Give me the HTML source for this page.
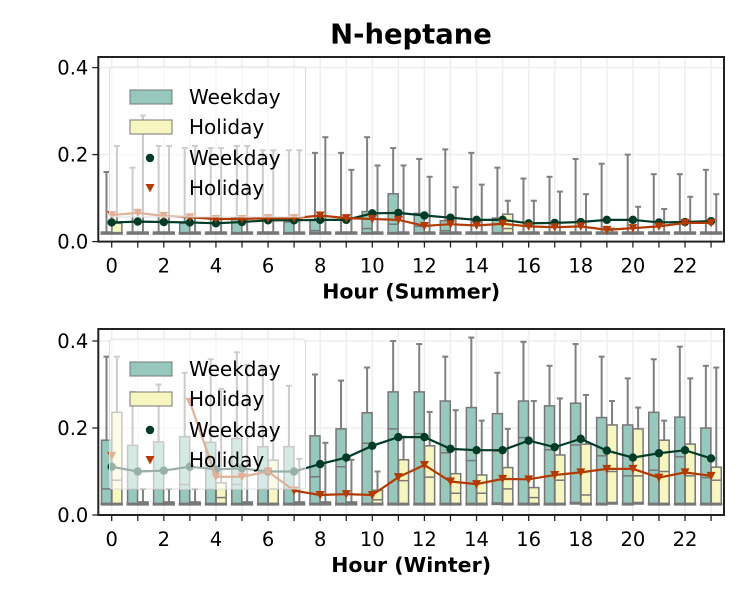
<!DOCTYPE html>
<html><head><meta charset="utf-8"><style>
body{margin:0;background:#fff}
svg text{font-family:"DejaVu Sans","Liberation Sans",sans-serif}
</style></head><body>
<svg id="chart" width="750" height="600" xmlns="http://www.w3.org/2000/svg">
<text x="411" y="43.5" text-anchor="middle" font-size="27.4" font-weight="bold">N-heptane</text>
</svg>
<script>
const hours=[0,1,2,3,4,5,6,7,8,9,10,11,12,13,14,15,16,17,18,19,20,21,22,23];
const yTicks=[0,0.2,0.4];
const xTicks=[0,2,4,6,8,10,12,14,16,18,20,22];
// Summer
const sWdMean=[0.044,0.046,0.045,0.044,0.042,0.045,0.049,0.049,0.05,0.05,0.065,0.066,0.06,0.055,0.05,0.05,0.042,0.043,0.045,0.05,0.05,0.044,0.045,0.047];
const sHdMean=[0.061,0.066,0.059,0.056,0.052,0.052,0.054,0.054,0.06,0.054,0.052,0.05,0.036,0.04,0.037,0.041,0.035,0.033,0.035,0.027,0.031,0.035,0.043,0.043];
const sWdQ1=[0.019,0.019,0.019,0.019,0.019,0.019,0.019,0.019,0.019,0.019,0.019,0.019,0.019,0.019,0.019,0.019,0.019,0.019,0.019,0.019,0.019,0.019,0.019,0.019];
const sWdMed=[0.019,0.019,0.019,0.019,0.019,0.019,0.019,0.019,0.025,0.019,0.03,0.04,0.035,0.025,0.019,0.02,0.019,0.019,0.019,0.019,0.019,0.019,0.019,0.019];
const sWdQ3=[0.022,0.022,0.022,0.042,0.022,0.054,0.022,0.045,0.05,0.022,0.069,0.11,0.065,0.048,0.022,0.054,0.022,0.022,0.022,0.022,0.022,0.022,0.022,0.022];
const sWdHi=[0.16,0.17,0.22,0.215,0.215,0.22,0.21,0.21,0.204,0.204,0.24,0.215,0.19,0.212,0.204,0.17,0.145,0.149,0.19,0.179,0.2,0.155,0.155,0.165];
const sHdQ1=[0.019,0.019,0.019,0.019,0.019,0.019,0.019,0.019,0.019,0.019,0.019,0.019,0.019,0.019,0.019,0.019,0.019,0.019,0.019,0.019,0.019,0.019,0.019,0.019];
const sHdMed=[0.019,0.019,0.019,0.019,0.019,0.019,0.019,0.019,0.019,0.019,0.019,0.019,0.019,0.019,0.019,0.03,0.019,0.019,0.019,0.019,0.019,0.019,0.019,0.019];
const sHdQ3=[0.042,0.022,0.022,0.022,0.022,0.022,0.022,0.022,0.022,0.022,0.022,0.022,0.022,0.022,0.022,0.063,0.022,0.022,0.022,0.022,0.022,0.022,0.022,0.022];
const sHdHi=[0.22,0.29,0.22,0.22,0.215,0.22,0.21,0.21,0.24,0.165,0.175,0.175,0.149,0.125,0.131,0.094,0.094,0.115,0.109,0.03,0.08,0.075,0.103,0.109];
// Winter
const wWdMean=[0.111,0.1,0.102,0.111,0.105,0.107,0.1,0.1,0.117,0.132,0.159,0.179,0.179,0.152,0.149,0.149,0.171,0.156,0.175,0.148,0.132,0.142,0.149,0.13];
const wHdMean=[0.136,null,null,0.26,0.088,0.088,0.1,0.056,0.046,0.048,0.046,0.087,0.115,0.077,0.071,0.083,0.082,0.092,0.098,0.106,0.106,0.086,0.098,0.09];
const wWdQ1=[0.025,0.025,0.025,0.025,0.025,0.025,0.025,0.025,0.025,0.025,0.025,0.025,0.025,0.025,0.025,0.026,0.025,0.025,0.027,0.025,0.025,0.025,0.025,0.025];
const wWdMed=[0.06,0.06,0.06,0.07,0.06,0.07,0.06,0.06,0.088,0.111,0.165,0.198,0.187,0.143,0.125,0.147,0.178,0.15,0.161,0.136,0.09,0.103,0.134,0.086];
const wWdQ3=[0.172,0.16,0.168,0.18,0.167,0.176,0.157,0.157,0.182,0.198,0.235,0.283,0.283,0.262,0.247,0.233,0.262,0.251,0.257,0.224,0.207,0.236,0.225,0.2];
const wWdHi=[0.364,0.283,0.3,0.327,0.358,0.374,0.338,0.297,0.323,0.309,0.339,0.4,0.393,0.364,0.408,0.327,0.398,0.343,0.393,0.364,0.314,0.358,0.387,0.343];
const wHdQ1=[0.025,0.025,0.025,0.025,0.025,0.025,0.025,0.025,0.025,0.025,0.025,0.025,0.025,0.025,0.025,0.025,0.025,0.025,0.025,0.027,0.027,0.025,0.025,0.025];
const wHdMed=[0.08,0.027,0.027,0.027,0.04,0.027,0.06,0.027,0.027,0.027,0.035,0.079,0.087,0.05,0.05,0.06,0.04,0.08,0.046,0.1,0.09,0.1,0.09,0.08];
const wHdQ3=[0.236,0.03,0.03,0.03,0.074,0.03,0.126,0.03,0.03,0.03,0.057,0.127,0.159,0.095,0.092,0.109,0.063,0.138,0.163,0.207,0.198,0.172,0.163,0.11];
const wHdHi=[0.364,0.06,0.06,0.06,0.29,0.345,0.324,0.129,0.166,0.127,0.1,0.18,0.237,0.241,0.217,0.198,0.262,0.268,0.276,0.262,0.247,0.217,0.314,0.339];

const NS='http://www.w3.org/2000/svg';
const svg=document.getElementById('chart');
function mk(tag,attrs,parent){const e=document.createElementNS(NS,tag);for(const k in attrs)e.setAttribute(k,attrs[k]);(parent||svg).appendChild(e);return e;}
const X0=98.3,X1=724,step=26.06,h0x=111.7;
function xs(h){return h0x+h*step;}
function panel(top,bottom,label,wdMean,hdMean,wdQ1,wdMed,wdQ3,wdHi,hdQ1,hdMed,hdQ3,hdHi,pname){
  const ys=v=>bottom-v*435;
  const g=mk('g',{});
  
  
  hours.forEach(h=>{const l=mk('line',{x1:xs(h),x2:xs(h),y1:top,y2:bottom,stroke:'#eee','stroke-width':1.5},g);
    });
  yTicks.forEach(v=>{const l=mk('line',{x1:X0,x2:X1,y1:ys(v),y2:ys(v),stroke:'#eee','stroke-width':1.5},g);
    });
  function box(h,off,q1,med,q3,hi,fill,nm){
    const cx=xs(h)+off,w=10;
    const bg=mk('g',{},g);
    
    
    mk('line',{x1:cx,x2:cx,y1:ys(q3),y2:ys(hi),stroke:'#808080','stroke-width':2},bg);
    mk('line',{x1:cx-3,x2:cx+3,y1:ys(hi),y2:ys(hi),stroke:'#808080','stroke-width':2},bg);
    mk('rect',{x:cx-w/2,y:ys(q3),width:w,height:Math.max(0.5,ys(q1)-ys(q3)),fill:fill,stroke:'#777','stroke-width':1.5},bg);
    mk('line',{x1:cx-w/2,x2:cx+w/2,y1:ys(med),y2:ys(med),stroke:'#777','stroke-width':1.5},bg);
    mk('line',{x1:cx-w/2-1,x2:cx+w/2+1,y1:ys(q1),y2:ys(q1),stroke:'#777','stroke-width':3},bg);
  }
  hours.forEach((h,i)=>{box(h,-5.2,wdQ1[i],wdMed[i],wdQ3[i],wdHi[i],'#96c8be','weekday');
    box(h,5.2,hdQ1[i],hdMed[i],hdQ3[i],hdHi[i],'#f7f6c0','holiday');});
  function series(arr,color,marker,nm){
    let segs=[],cur=[];
    arr.forEach((v,i)=>{if(v==null){if(cur.length)segs.push(cur);cur=[];}else cur.push([xs(hours[i]),ys(v)]);});
    if(cur.length)segs.push(cur);
    segs.forEach(s=>{const p=mk('polyline',{points:s.map(q=>q.join(',')).join(' '),fill:'none',stroke:color,'stroke-width':2.2},g);
      });
    arr.forEach((v,i)=>{if(v==null)return;const x=xs(hours[i]),y=ys(v);let m;
      if(marker==='c')m=mk('circle',{cx:x,cy:y,r:4.2,fill:color},g);
      else m=mk('polygon',{points:`${x-4.5},${y-4} ${x+4.5},${y-4} ${x},${y+4.5}`,fill:color},g);
      });
  }
  series(wdMean,'#003b26','c','weekday');
  series(hdMean,'#b33a00','t','holiday');
  const lg=mk('g',{},g);
  
  
  mk('rect',{x:109.5,y:top+10,width:196,height:150,rx:3,fill:'rgba(255,255,255,0.6)',stroke:'#ddd','stroke-width':1},lg);
  const ry=[top+40,top+70,top+101,top+131];
  mk('rect',{x:130,y:ry[0]-7,width:42,height:14,fill:'#96c8be',stroke:'#777'},lg);
  mk('rect',{x:130,y:ry[1]-7,width:42,height:14,fill:'#f7f6c0',stroke:'#777'},lg);
  mk('circle',{cx:150,cy:ry[2],r:4.2,fill:'#003b26'},lg);
  mk('polygon',{points:`${145.5},${ry[3]-4} ${154.5},${ry[3]-4} 150,${ry[3]+4.5}`,fill:'#b33a00'},lg);
  ['Weekday','Holiday','Weekday','Holiday'].forEach((t,i)=>{const tx=mk('text',{x:189,y:ry[i]+7,'font-size':20},lg);tx.textContent=t;
    });
  const sp=mk('rect',{x:X0,y:top,width:X1-X0,height:bottom-top,fill:'none',stroke:'#222','stroke-width':2},g);
  
  hours.forEach(h=>mk('line',{x1:xs(h),x2:xs(h),y1:bottom,y2:bottom+6,stroke:'#222','stroke-width':1.3},g));
  xTicks.forEach(h=>{const t=mk('text',{x:xs(h),y:bottom+31,'font-size':19.5,'text-anchor':'middle'},g);t.textContent=h;
    });
  yTicks.forEach(v=>{mk('line',{x1:X0-6,x2:X0,y1:ys(v),y2:ys(v),stroke:'#222','stroke-width':1.3},g);
    const t=mk('text',{x:X0-10,y:ys(v)+7,'font-size':19.5,'text-anchor':'end'},g);t.textContent=v.toFixed(1);
    });
  const xl=mk('text',{x:(X0+X1)/2,y:bottom+57,'font-size':20.5,'font-weight':'bold','text-anchor':'middle'},g);
  xl.textContent=label;
  
}
panel(57,241.6,'Hour (Summer)',sWdMean,sHdMean,sWdQ1,sWdMed,sWdQ3,sWdHi,sHdQ1,sHdMed,sHdQ3,sHdHi,'summer');
panel(329,515,'Hour (Winter)',wWdMean,wHdMean,wWdQ1,wWdMed,wWdQ3,wWdHi,wHdQ1,wHdMed,wHdQ3,wHdHi,'winter');
</script>
</body></html>
